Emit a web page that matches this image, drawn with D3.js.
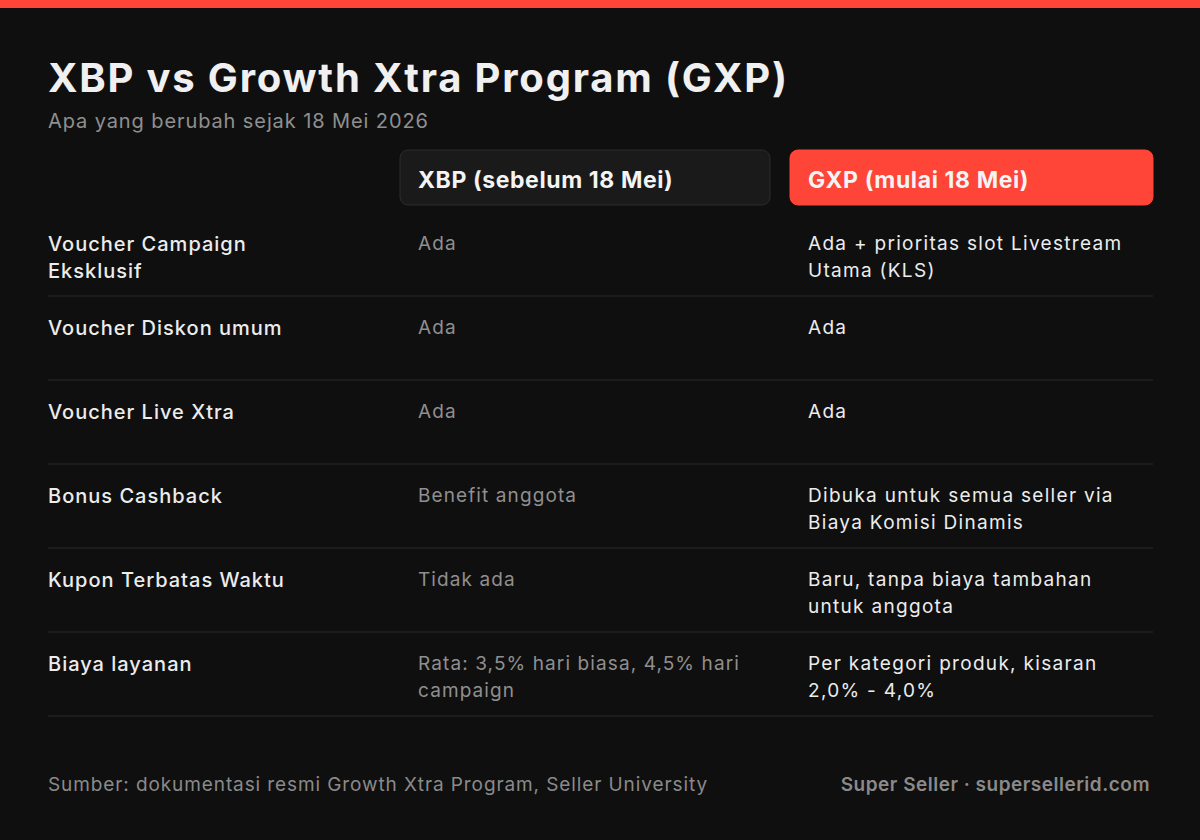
<!DOCTYPE html>
<html><head><meta charset="utf-8">
<script src="https://cdn.jsdelivr.net/npm/d3@7/dist/d3.min.js"></script>
<style>body{margin:0;background:#0f0f0f}</style></head>
<body><svg id="c" width="1200" height="840"></svg>
<script>
const features = ["Voucher Campaign\nEksklusif","Voucher Diskon umum","Voucher Live Xtra","Bonus Cashback","Kupon Terbatas Waktu","Biaya layanan"];
const xbp = ["Ada","Ada","Ada","Benefit anggota","Tidak ada","Rata: 3,5% hari biasa, 4,5% hari\ncampaign"];
const gxp = ["Ada + prioritas slot Livestream\nUtama (KLS)","Ada","Ada","Dibuka untuk semua seller via\nBiaya Komisi Dinamis","Baru, tanpa biaya tambahan\nuntuk anggota","Per kategori produk, kisaran\n2,0% - 4,0%"];
const headers = ["XBP (sebelum 18 Mei)","GXP (mulai 18 Mei)"];
const title = "XBP vs Growth Xtra Program (GXP)";
const subtitle = "Apa yang berubah sejak 18 Mei 2026";
const source = "Sumber: dokumentasi resmi Growth Xtra Program, Seller University";
const brand = "Super Seller · supersellerid.com";

const F = "Inter, 'Open Sans', sans-serif";
const svg = d3.select("#c");
svg.append("rect").attr("width",1200).attr("height",840).attr("fill","#0f0f0f");
svg.append("rect").attr("width",1200).attr("height",8).attr("fill","#ff4438");
svg.append("text").attr("x",48).attr("y",92).text(title).attr("font-family",F).attr("font-size",40).attr("font-weight",700).attr("letter-spacing",1.8).attr("fill","#f0f0f0");
svg.append("text").attr("x",48).attr("y",128).text(subtitle).attr("font-family",F).attr("font-size",20).attr("letter-spacing",0.9).attr("fill","#8f8f8f");

const y = d3.scaleBand().domain(d3.range(features.length)).range([212,716]);
const hx=[{x:400,w:370,fill:"#1a1a1a",stroke:"#2c2c2c"},{x:790,w:363,fill:"#ff4438",stroke:"#ff4438"}];
hx.forEach((h,i)=>{
  svg.append("rect").attr("x",h.x).attr("y",150).attr("width",h.w).attr("height",55).attr("rx",8).attr("fill",h.fill).attr("stroke",h.stroke);
  svg.append("text").attr("x",h.x+18).attr("y",188).text(headers[i]).attr("font-family",F).attr("font-size",23).attr("font-weight",700).attr("letter-spacing",0.6).attr("fill","#f4f4f4");
});
function multi(x,yy,str,opts){
  const t=svg.append("text").attr("x",x).attr("y",yy).attr("font-family",F).attr("font-size",opts.size).attr("font-weight",opts.w||400).attr("letter-spacing",opts.ls).attr("fill",opts.fill);
  str.split("\n").forEach((s,j)=>t.append("tspan").attr("x",x).attr("dy",j?27:0).text(s));
}
features.forEach((f,i)=>{
  const top=y(i);
  multi(48,top+39,f,{size:20,w:500,ls:1.0,fill:"#ececec"});
  multi(418,top+38,xbp[i],{size:19,ls:1.1,fill:"#8f8f8f"});
  multi(808,top+38,gxp[i],{size:19,ls:1.3,fill:"#ececec"});
  svg.append("line").attr("x1",48).attr("x2",1153).attr("y1",top+y.bandwidth()).attr("y2",top+y.bandwidth()).attr("stroke","#2a2a2a");
});
svg.append("text").attr("x",48).attr("y",791).text(source).attr("font-family",F).attr("font-size",19).attr("letter-spacing",0.9).attr("fill","#8a8a8a");
svg.append("text").attr("x",1150).attr("y",791).attr("text-anchor","end").text(brand).attr("font-family",F).attr("font-size",19).attr("font-weight",600).attr("letter-spacing",0.5).attr("fill","#8a8a8a");
</script></body></html>
